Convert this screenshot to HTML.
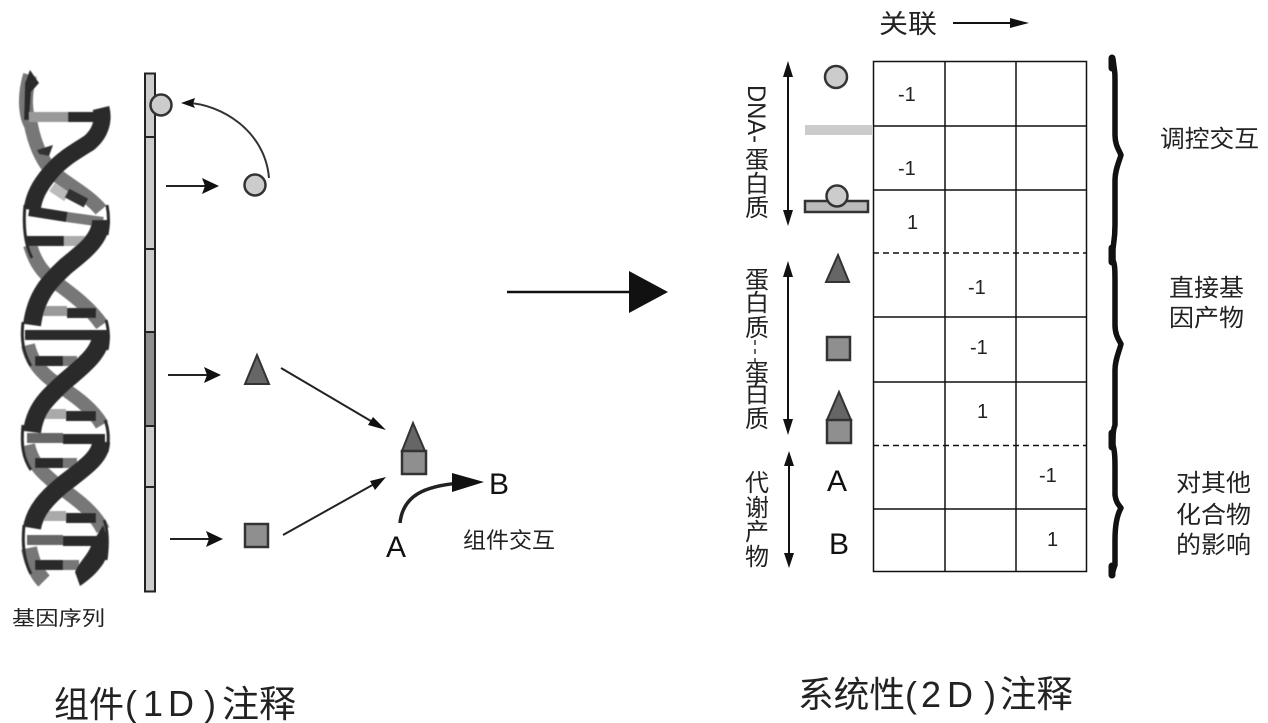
<!DOCTYPE html>
<html><head><meta charset="utf-8">
<style>
html,body{margin:0;padding:0;background:#fff}
svg{display:block}
text{font-family:"Liberation Sans","Noto Sans CJK SC",sans-serif;fill:#222}
.z{font-size:22px}
</style></head>
<body>
<svg width="1268" height="723" viewBox="0 0 1268 723" xmlns="http://www.w3.org/2000/svg">
<defs><filter id="s" x="-5%" y="-5%" width="110%" height="110%"><feGaussianBlur stdDeviation="0.6"/></filter></defs>

<!-- DNA -->
<g filter="url(#s)" transform="translate(1 0)">
<g fill="none">
<path d="M29 75C23 95 24 115 30 125C33 140 38 155 48 168C58 180 85 192 100 210" stroke="#777" stroke-width="14"/>
<path d="M29 245C33 258 38 268 48 277C60 287 85 302 101 325" stroke="#777" stroke-width="14"/>
<path d="M27 345C30 358 36 368 48 378C60 388 88 402 101 425" stroke="#777" stroke-width="14"/>
<path d="M27 445C30 458 36 468 48 478C60 490 90 505 102 530" stroke="#777" stroke-width="14"/>
<path d="M28 548C31 562 36 574 43 581" stroke="#777" stroke-width="16"/>
</g>
<path d="M24 83L29 70L38 83L30 92L28 120L23 120z" fill="#2a2a2a"/>
<!-- outer edge curves -->
<g fill="none" stroke="#2a2a2a" stroke-width="3">
<path d="M24 205C22 225 24 245 31 258"/>
<path d="M22 322C20 340 22 352 30 366"/>
<path d="M22 425C20 445 22 458 30 470"/>
<path d="M23 525C21 545 23 560 30 574"/>
<path d="M106 205C108 215 108 225 106 235"/>
<path d="M105 320C108 330 108 340 106 350"/>
<path d="M104 420C108 430 108 440 106 452"/>
<path d="M103 520C107 530 107 545 105 560"/>
</g>
<!-- rungs -->
<g stroke-width="10">
<path d="M28 117H67" stroke="#999"/><path d="M67 117H103" stroke="#2a2a2a"/>
<path d="M51 187L66 197" stroke="#bbb"/><path d="M66 193L85 203" stroke="#333"/>
<path d="M28 211L66 217" stroke="#2a2a2a"/><path d="M66 217L102 222" stroke="#777"/>
<path d="M26 241H63" stroke="#2a2a2a"/><path d="M63 241H98" stroke="#aaa"/>
<path d="M40 311H66" stroke="#999"/><path d="M66 313H95" stroke="#2a2a2a"/>
<path d="M24 335H106" stroke="#2a2a2a"/>
<path d="M34 361H62" stroke="#2a2a2a"/><path d="M62 361H76" stroke="#777"/>
<path d="M42 414H65" stroke="#aaa"/><path d="M65 416H95" stroke="#2a2a2a"/>
<path d="M26 438H62" stroke="#666"/><path d="M62 439H104" stroke="#2a2a2a"/>
<path d="M34 463H62" stroke="#2a2a2a"/><path d="M62 463H76" stroke="#777"/>
<path d="M41 516H65" stroke="#aaa"/><path d="M65 518H95" stroke="#2a2a2a"/>
<path d="M26 540H62" stroke="#666"/><path d="M62 541H105" stroke="#2a2a2a"/>
<path d="M34 565H62" stroke="#2a2a2a"/><path d="M62 565H78" stroke="#777"/>
</g>
<path d="M36 150L52 145L48 156L38 154z" fill="#333"/>
<!-- front strand -->
<g fill="none" stroke="#2a2a2a" stroke-width="18">
<path d="M100 108C103 120 100 133 88 143C72 153 60 160 50 172C38 186 33 196 31 210" stroke-width="17"/>
<path d="M100 220C100 238 85 250 65 266C48 282 35 295 31 325"/>
<path d="M100 335C100 352 82 366 63 382C47 397 34 408 31 432"/>
<path d="M100 442C100 458 80 470 60 486C47 497 34 510 31 528"/>
</g>
<path d="M102 525C108 540 108 555 102 564C96 573 88 580 79 586L74 572C78 562 86 556 90 546C94 538 98 532 102 525z" fill="#2a2a2a"/>
</g>

<!-- sequence bar -->
<g stroke="#222" stroke-width="2">
<rect x="145" y="73.5" width="10" height="518" fill="#ccc"/>
<rect x="145" y="332" width="10" height="94" fill="#8f8f8f"/>
<path d="M145 137H155M145 249H155M145 332H155M145 426H155M145 487H155"/>
</g>
<circle cx="161" cy="105" r="10.5" fill="#ccc" stroke="#333" stroke-width="2.5"/>
<circle cx="255" cy="185" r="10.5" fill="#ccc" stroke="#333" stroke-width="2.5"/>
<path d="M269 178C265 130 220 104 188 103" fill="none" stroke="#333" stroke-width="2"/>
<path d="M181 103L195 98L193 104L195 108z" fill="#111"/>

<!-- horizontal arrows -->
<g stroke="#222" stroke-width="2">
<path d="M166 186H206M168 375H208M170 539H210"/>
</g>
<path d="M202 178L219 186L202 194L205 186z M204 367L221 375L204 383L207 375z M206 531L223 539L206 547L209 539z" fill="#111"/>

<path d="M257 355L269 384H245z" fill="#666" stroke="#333" stroke-width="2"/>
<rect x="245" y="524" width="23" height="23" fill="#8f8f8f" stroke="#333" stroke-width="2.5"/>

<path d="M281 368L376 424M283 535L376 483" stroke="#222" stroke-width="2" fill="none"/>
<path d="M386 430L368 425L373 417z M386 477L375 490L370 481z" fill="#111"/>

<path d="M413 423L425 451H402z" fill="#666" stroke="#333" stroke-width="2"/>
<rect x="402" y="451" width="24" height="23" fill="#8f8f8f" stroke="#333" stroke-width="2.5"/>

<path d="M400 523C403 495 425 486 460 483" fill="none" stroke="#222" stroke-width="3.5"/>
<path d="M452 473L484 482L452 492z" fill="#111"/>
<text x="489" y="494" font-size="30" style="fill:#111">B</text>
<text x="386" y="557" font-size="30" style="fill:#111">A</text>
<text x="463" y="548" class="z" textLength="92" lengthAdjust="spacingAndGlyphs">组件交互</text>
<text x="12" y="625" font-size="20" textLength="93" lengthAdjust="spacingAndGlyphs">基因序列</text>

<text x="54" y="717" font-size="36" textLength="70" lengthAdjust="spacingAndGlyphs">组件</text>
<text x="125 143 168 204" y="716" font-size="36">(1D)</text>
<text x="222" y="717" font-size="37" textLength="74" lengthAdjust="spacingAndGlyphs">注释</text>

<!-- big arrow -->
<path d="M507 292H632" stroke="#111" stroke-width="2.5"/>
<path d="M629 271L668 292L629 313z" fill="#111"/>

<!-- top -->
<text x="879" y="33" font-size="26" textLength="58" lengthAdjust="spacingAndGlyphs">关联</text>
<path d="M953 23H1012" stroke="#111" stroke-width="2"/>
<path d="M1010 18L1029 23L1010 28z" fill="#111"/>

<!-- table -->
<g stroke="#111" stroke-width="1.5" fill="none">
<rect x="873.5" y="61.5" width="213" height="510"/>
<path d="M945 61V572M1016 61V572"/>
<path d="M873 126H1086M873 190H1086M873 317H1086M873 382H1086M873 509H1086"/>
<path d="M873 253H1086M873 445.5H1086" stroke-dasharray="6 4"/>
</g>
<g font-size="20">
<text x="898" y="101">-1</text>
<text x="898" y="175">-1</text>
<text x="907" y="229">1</text>
<text x="968" y="294">-1</text>
<text x="970" y="354">-1</text>
<text x="977" y="418">1</text>
<text x="1039" y="482">-1</text>
<text x="1047" y="546">1</text>
</g>

<!-- row icons -->
<circle cx="836" cy="77" r="11" fill="#ccc" stroke="#333" stroke-width="2.5"/>
<rect x="805" y="125" width="68" height="10" fill="#ccc"/>
<rect x="805" y="201" width="63" height="11" fill="#bbb" stroke="#333" stroke-width="2.5"/>
<circle cx="837" cy="196" r="10.5" fill="#ccc" stroke="#333" stroke-width="2.5"/>
<path d="M838 255L849 282H826z" fill="#666" stroke="#333" stroke-width="2"/>
<rect x="827" y="337" width="23" height="23" fill="#8f8f8f" stroke="#333" stroke-width="2.5"/>
<path d="M839 392L851 420H827z" fill="#666" stroke="#333" stroke-width="2"/>
<rect x="827" y="420" width="24" height="23" fill="#8f8f8f" stroke="#333" stroke-width="2.5"/>
<text x="827" y="491" font-size="30" style="fill:#111">A</text>
<text x="829" y="554" font-size="30" style="fill:#111">B</text>

<!-- vertical arrows -->
<g stroke="#111" stroke-width="2">
<path d="M788 70V218M788 270V425M789 460V562"/>
</g>
<path d="M788 61L793 77H783z M788 226L793 210H783z M788 261L793 277H783z M788 435L793 419H783z M789 451L794 466H784z M789 568L794 553H784z" fill="#111"/>

<!-- vertical labels -->
<text transform="translate(748 85) rotate(90)" font-size="25" textLength="58" lengthAdjust="spacingAndGlyphs">DNA-</text>
<g font-size="24" text-anchor="middle">
<text x="757" y="168">蛋</text>
<text x="757" y="192">白</text>
<text x="757" y="216">质</text>
<text x="757" y="288">蛋</text>
<text x="757" y="311">白</text>
<text x="757" y="336">质</text>
<text x="757" y="381">蛋</text>
<text x="757" y="402">白</text>
<text x="757" y="427">质</text>
<text x="757" y="491">代</text>
<text x="757" y="516">谢</text>
<text x="757" y="540">产</text>
<text x="757" y="565">物</text>
</g>
<path d="M755 340V362" stroke="#333" stroke-width="1.5" stroke-dasharray="5 4"/>

<!-- braces -->
<g fill="none" stroke="#111" stroke-linecap="round" stroke-linejoin="round">
<path d="M1113 59C1115 75 1115 70 1115 85V135C1115 145 1119 150 1121 155C1119 162 1115 170 1115 180V225C1115 240 1113 245 1113 250V260C1115 265 1115 270 1115 285V325C1115 335 1119 340 1121 344C1119 352 1115 360 1115 370V425C1113 430 1113 435 1113 445C1115 452 1115 460 1115 470V495C1116 503 1119 505 1121 508C1117 515 1115 525 1115 540V565C1113 570 1113 572 1112 574" stroke-width="5.5"/>
<path d="M1112 58V68M1112 248V262M1112 433V447M1112 566V575" stroke-width="7"/>
</g>

<!-- right labels -->
<g font-size="24">
<text x="1160" y="147" textLength="99" lengthAdjust="spacingAndGlyphs">调控交互</text>
<text x="1169" y="296" textLength="75" lengthAdjust="spacingAndGlyphs">直接基</text>
<text x="1169" y="326" textLength="75" lengthAdjust="spacingAndGlyphs">因产物</text>
<text x="1176" y="491" textLength="75" lengthAdjust="spacingAndGlyphs">对其他</text>
<text x="1176" y="523" textLength="75" lengthAdjust="spacingAndGlyphs">化合物</text>
<text x="1176" y="553" textLength="75" lengthAdjust="spacingAndGlyphs">的影响</text>
</g>
<rect x="1250" y="465" width="18" height="100" fill="#fff"/>

<text x="798" y="707" font-size="36" textLength="107" lengthAdjust="spacingAndGlyphs">系统性</text>
<text x="905 921 947 984" y="707" font-size="36">(2D)</text>
<text x="1000" y="707" font-size="37" textLength="73" lengthAdjust="spacingAndGlyphs">注释</text>
</svg>
</body></html>
